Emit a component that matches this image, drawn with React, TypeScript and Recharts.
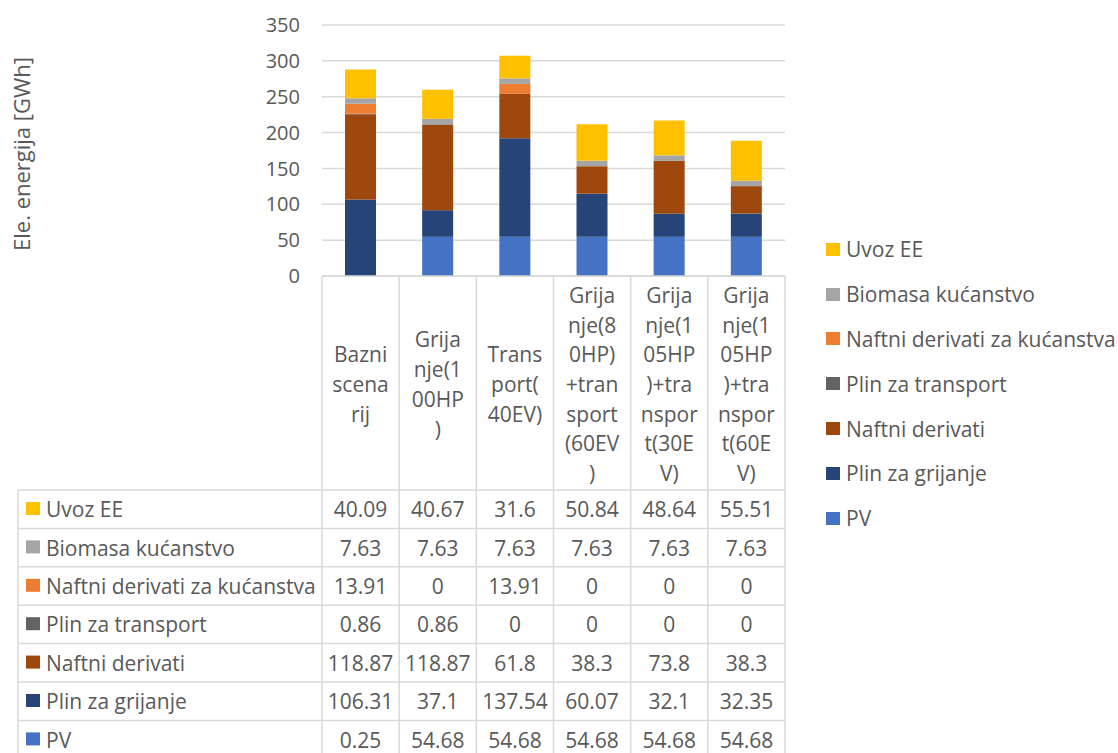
import { BarChart, Bar, XAxis, YAxis, CartesianGrid } from 'recharts';

// scenarios (x categories) and how Excel wrapped their labels
const categories = [
  'Bazni scenarij',
  'Grijanje(100HP)',
  'Transport(40EV)',
  'Grijanje(80HP)+transport(60EV)',
  'Grijanje(105HP)+transport(30EV)',
  'Grijanje(105HP)+transport(60EV)',
];
const categoryLines = [
  ['Bazni', 'scena', 'rij'],
  ['Grija', 'nje(1', '00HP', ')'],
  ['Trans', 'port(', '40EV)'],
  ['Grija', 'nje(8', '0HP)', '+tran', 'sport', '(60EV', ')'],
  ['Grija', 'nje(1', '05HP', ')+tra', 'nspor', 't(30E', 'V)'],
  ['Grija', 'nje(1', '05HP', ')+tra', 'nspor', 't(60E', 'V)'],
];

const pv = [0.25, 54.68, 54.68, 54.68, 54.68, 54.68];
const plinGrijanje = [106.31, 37.1, 137.54, 60.07, 32.1, 32.35];
const naftniDerivati = [118.87, 118.87, 61.8, 38.3, 73.8, 38.3];
const plinTransport = [0.86, 0.86, 0, 0, 0, 0];
const naftniKucanstva = [13.91, 0, 13.91, 0, 0, 0];
const biomasa = [7.63, 7.63, 7.63, 7.63, 7.63, 7.63];
const uvozEE = [40.09, 40.67, 31.6, 50.84, 48.64, 55.51];

const yTicks = [0, 50, 100, 150, 200, 250, 300, 350];

// stacking order, bottom to top
const series = [
  { key: 'pv', name: 'PV', color: '#4472C4', values: pv },
  { key: 'plinGrijanje', name: 'Plin za grijanje', color: '#264478', values: plinGrijanje },
  { key: 'naftniDerivati', name: 'Naftni derivati', color: '#9E480E', values: naftniDerivati },
  { key: 'plinTransport', name: 'Plin za transport', color: '#636363', values: plinTransport },
  { key: 'naftniKucanstva', name: 'Naftni derivati za kućanstva', color: '#ED7D31', values: naftniKucanstva },
  { key: 'biomasa', name: 'Biomasa kućanstvo', color: '#A5A5A5', values: biomasa },
  { key: 'uvozEE', name: 'Uvoz EE', color: '#FFC000', values: uvozEE },
];

const data = categories.map((name, i) => {
  const row: Record<string, string | number> = { name };
  series.forEach((s) => {
    row[s.key] = s.values[i];
  });
  return row;
});

// layout
const W = 1118;
const H = 753;
const PLOT_LEFT = 322;
const PLOT_RIGHT = 785;
const PLOT_TOP = 25;
const PLOT_BOTTOM = 276;
const BAND = (PLOT_RIGHT - PLOT_LEFT) / categories.length;
const TABLE_TOP = 490;
const TABLE_LEFT = 18;
const ROW_H = 38.4;
const LINE_STEP = 29.7;
const GRID = '#D9D9D9';
const TEXT = '#595959';
const FONT = '"Open Sans", sans-serif';
const FS = 21;

const tableRows = [...series].reverse();

const CategoryTick = (props: any) => {
  const { x, payload } = props;
  const i = payload.index;
  const lines = categoryLines[i];
  const left = x - BAND / 2;
  const right = x + BAND / 2;
  const mid = (PLOT_BOTTOM + TABLE_TOP) / 2 + 1;
  const first = mid - ((lines.length - 1) * LINE_STEP) / 2;
  return (
    <g>
      {i === 0 && (
        <g>
          <line x1={TABLE_LEFT} x2={TABLE_LEFT} y1={TABLE_TOP} y2={H + 10} stroke={GRID} strokeWidth={1.5} />
          {tableRows.map((s, r) => (
            <line
              key={'h' + r}
              x1={TABLE_LEFT}
              x2={PLOT_RIGHT}
              y1={TABLE_TOP + r * ROW_H}
              y2={TABLE_TOP + r * ROW_H}
              stroke={GRID}
              strokeWidth={1.5}
            />
          ))}
          {tableRows.map((s, r) => (
            <g key={'n' + r}>
              <rect x={26} y={TABLE_TOP + r * ROW_H + 12} width={14} height={13} fill={s.color} />
              <text
                x={46}
                y={TABLE_TOP + (r + 0.5) * ROW_H}
                dominantBaseline="central"
                fill={TEXT}
                fontSize={FS}
                fontFamily={FONT}
              >
                {s.name}
              </text>
            </g>
          ))}
          <line x1={left} x2={left} y1={PLOT_BOTTOM} y2={H + 10} stroke={GRID} strokeWidth={1.5} />
        </g>
      )}
      <line x1={right} x2={right} y1={PLOT_BOTTOM} y2={H + 10} stroke={GRID} strokeWidth={1.5} />
      {lines.map((l, k) => (
        <text
          key={k}
          x={x}
          y={first + k * LINE_STEP}
          textAnchor="middle"
          dominantBaseline="central"
          fill={TEXT}
          fontSize={FS}
          fontFamily={FONT}
        >
          {l}
        </text>
      ))}
      {tableRows.map((s, r) => (
        <text
          key={'v' + r}
          x={x}
          y={TABLE_TOP + (r + 0.5) * ROW_H}
          textAnchor="middle"
          dominantBaseline="central"
          fill={TEXT}
          fontSize={FS}
          fontFamily={FONT}
        >
          {s.values[i]}
        </text>
      ))}
    </g>
  );
};

const AxisTitle = () => (
  <text
    x={21}
    y={154}
    transform="rotate(-90 21 154)"
    textAnchor="middle"
    dominantBaseline="central"
    fill={TEXT}
    fontSize={22}
    fontFamily={FONT}
  >
    Ele. energija [GWh]
  </text>
);

export default function App() {
  return (
    <div style={{ position: 'absolute', left: 0, top: 0, width: W, height: H, background: '#fff', overflow: 'hidden' }}>
      <BarChart
        width={W}
        height={H}
        data={data}
        margin={{ top: PLOT_TOP, right: W - PLOT_RIGHT, left: PLOT_LEFT - 60, bottom: 0 }}
      >
        <CartesianGrid vertical={false} stroke={GRID} strokeWidth={1.5} />
        <XAxis
          dataKey="name"
          height={H - PLOT_BOTTOM}
          interval={0}
          tickLine={false}
          axisLine={{ stroke: GRID, strokeWidth: 1.5 }}
          tick={<CategoryTick />}
        />
        <YAxis
          width={60}
          domain={[0, 350]}
          ticks={yTicks}
          tickLine={false}
          axisLine={false}
          tickSize={6}
          tickMargin={16}
          tick={{ fill: TEXT, fontSize: 20, fontFamily: FONT }}
          label={{ content: <AxisTitle /> }}
        />
        {series.map((s) => (
          <Bar key={s.key} dataKey={s.key} name={s.name} stackId="a" fill={s.color} barSize={31} isAnimationActive={false} />
        ))}
      </BarChart>
      <div style={{ position: 'absolute', left: 826, top: 227, fontFamily: FONT, fontSize: FS, color: TEXT }}>
        {tableRows.map((s) => (
          <div key={s.key} style={{ height: 44.8, display: 'flex', alignItems: 'center', whiteSpace: 'nowrap' }}>
            <span style={{ display: 'inline-block', width: 14, height: 13, background: s.color, marginRight: 6 }} />
            {s.name}
          </div>
        ))}
      </div>
    </div>
  );
}
